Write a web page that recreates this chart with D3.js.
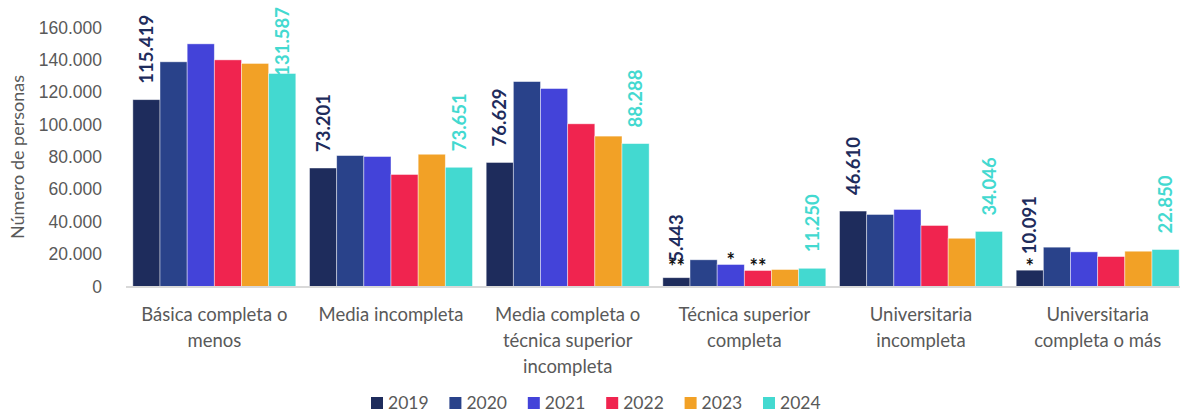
<!DOCTYPE html>
<html lang="es">
<head>
<meta charset="UTF-8">
<title>Número de personas por nivel educacional</title>
<style>
body { margin: 0; background: #fff; }
svg { font-family: Lato, "Open Sans", sans-serif; }
.tick text { fill: #595959; font-size: 17.5px; }
.cat { fill: #595959; font-size: 18.5px; }
.ytitle { fill: #595959; font-size: 18px; }
.legend text { fill: #595959; font-size: 17.5px; }
.lbl { font-size: 18.5px; font-weight: bold; }
.note { font-size: 20px; font-weight: bold; fill: #111; }
</style>
</head>
<body>
<script src="https://cdnjs.cloudflare.com/ajax/libs/d3/7.8.5/d3.min.js"></script>
<script>
var categories = ["Básica completa o menos", "Media incompleta",
  "Media completa o técnica superior incompleta", "Técnica superior completa",
  "Universitaria incompleta", "Universitaria completa o más"];
var years = ["2019", "2020", "2021", "2022", "2023", "2024"];
var colors = ["#1e2c5c", "#29428a", "#4343d9", "#f0244f", "#f2a126", "#43d9d0"];

// one array per year, same order as categories
var v2019 = [115419, 73201, 76629, 5443, 46610, 10091];
var v2020 = [138800, 80900, 126600, 16500, 44500, 24300];
var v2021 = [149900, 80300, 122300, 13600, 47600, 21400];
var v2022 = [140000, 69200, 100500, 9900, 37700, 18500];
var v2023 = [137800, 81700, 92900, 10500, 29800, 21800];
var v2024 = [131587, 73651, 88288, 11250, 34046, 22850];
var series = [v2019, v2020, v2021, v2022, v2023, v2024];

var yTicks = [0, 20000, 40000, 60000, 80000, 100000, 120000, 140000, 160000];
var labelled = ["2019", "2024"];
// asterisks marking low-precision estimates
var notes = [
  { cat: "Técnica superior completa", year: "2019", text: "**" },
  { cat: "Técnica superior completa", year: "2021", text: "*" },
  { cat: "Técnica superior completa", year: "2022", text: "**" },
  { cat: "Universitaria completa o más", year: "2019", text: "*" }
];

var width = 1180, height = 412;
var svg = d3.select("body").append("svg")
  .attr("width", width).attr("height", height);

var es = d3.formatLocale({ decimal: ",", thousands: ".", grouping: [3], currency: ["$", ""] });
var fmt = es.format(",d");

var x0 = d3.scaleBand().domain(categories).range([126, 1186])
  .paddingInner(0.0775).paddingOuter(0.03875);
var x1 = d3.scaleBand().domain(years).range([0, x0.bandwidth()]);
var y = d3.scaleLinear().domain([0, 160000]).range([286.5, 27.5]);

// y axis
var yAxis = svg.append("g").attr("transform", "translate(102,0)")
  .call(d3.axisLeft(y).tickValues(yTicks).tickFormat(fmt).tickSize(0).tickPadding(0));
yAxis.select(".domain").remove();
yAxis.selectAll("text").attr("font-family", null).attr("font-size", null);

svg.append("text").attr("class", "ytitle")
  .attr("transform", "translate(18," + ((y(0) + y(160000)) / 2) + ") rotate(-90)")
  .attr("text-anchor", "middle").attr("dy", "0.35em")
  .text("Número de personas");

// bars
var groups = svg.selectAll("g.grp").data(categories).enter().append("g")
  .attr("class", "grp")
  .attr("transform", function (c) { return "translate(" + x0(c) + ",0)"; });

groups.selectAll("rect").data(function (c, ci) {
    return years.map(function (yr, yi) { return { cat: c, year: yr, value: series[yi][ci], k: yi }; });
  }).enter().append("rect")
  .attr("x", function (d) { return x1(d.year); })
  .attr("y", function (d) { return y(d.value); })
  .attr("width", x1.bandwidth())
  .attr("height", function (d) { return y(0) - y(d.value); })
  .attr("fill", function (d) { return colors[d.k]; })
  .attr("stroke", "#ffffff").attr("stroke-opacity", 0.55).attr("stroke-width", 0.8);

// baseline
svg.append("line")
  .attr("x1", 126).attr("x2", 1186).attr("y1", y(0) + 0.5).attr("y2", y(0) + 0.5)
  .attr("stroke", "#d9d9d9").attr("stroke-width", 2);

// value labels for first and last year, rotated
var topLimit = 7;
labelled.forEach(function (yr) {
  var yi = years.indexOf(yr);
  categories.forEach(function (c, ci) {
    var v = series[yi][ci];
    var cx = x0(c) + x1(yr) + x1.bandwidth() / 2;
    var t = svg.append("text").attr("class", "lbl")
      .attr("fill", colors[yi])
      .attr("text-anchor", "start").attr("dy", "0.36em")
      .text(fmt(v));
    var len = t.node().getComputedTextLength();
    var start = y(v) - 16;
    if (start - len < topLimit) start = topLimit + len;
    t.attr("transform", "translate(" + cx + "," + start + ") rotate(-90)");
  });
});

// asterisk notes, kept on a common line when bars are short
notes.forEach(function (n) {
  var yi = years.indexOf(n.year), ci = categories.indexOf(n.cat);
  var v = series[yi][ci];
  var cx = x0(n.cat) + x1(n.year) + x1.bandwidth() / 2;
  svg.append("text").attr("class", "note")
    .attr("x", cx).attr("y", Math.min(y(v), y(10000)) - 7)
    .attr("text-anchor", "middle").attr("dy", "0.55em")
    .text(n.text);
});

// category labels, wrapped to band width
svg.selectAll("text.cat").data(categories).enter().append("text")
  .attr("class", "cat").attr("text-anchor", "middle")
  .attr("x", function (c) { return x0(c) + x0.bandwidth() / 2; })
  .attr("y", 321)
  .each(function (c) {
    var el = d3.select(this), words = c.split(" "), line = [], lines = [];
    var probe = el.append("tspan");
    words.forEach(function (w) {
      line.push(w);
      probe.text(line.join(" "));
      if (probe.node().getComputedTextLength() > x0.bandwidth() - 2 && line.length > 1) {
        line.pop(); lines.push(line.join(" ")); line = [w];
      }
    });
    lines.push(line.join(" "));
    probe.remove();
    lines.forEach(function (l, i) {
      el.append("tspan").attr("x", x0(c) + x0.bandwidth() / 2)
        .attr("dy", i ? 26 : 0).text(l);
    });
  });

// legend
var legend = svg.append("g").attr("class", "legend");
var lx = d3.scalePoint().domain(years).range([371, 763]);
years.forEach(function (yr, i) {
  legend.append("rect").attr("x", lx(yr)).attr("y", 397)
    .attr("width", 12).attr("height", 12).attr("fill", colors[i]);
  legend.append("text").attr("x", lx(yr) + 17).attr("y", 402.5)
    .attr("dy", "0.36em").text(yr);
});
</script>
</body>
</html>
